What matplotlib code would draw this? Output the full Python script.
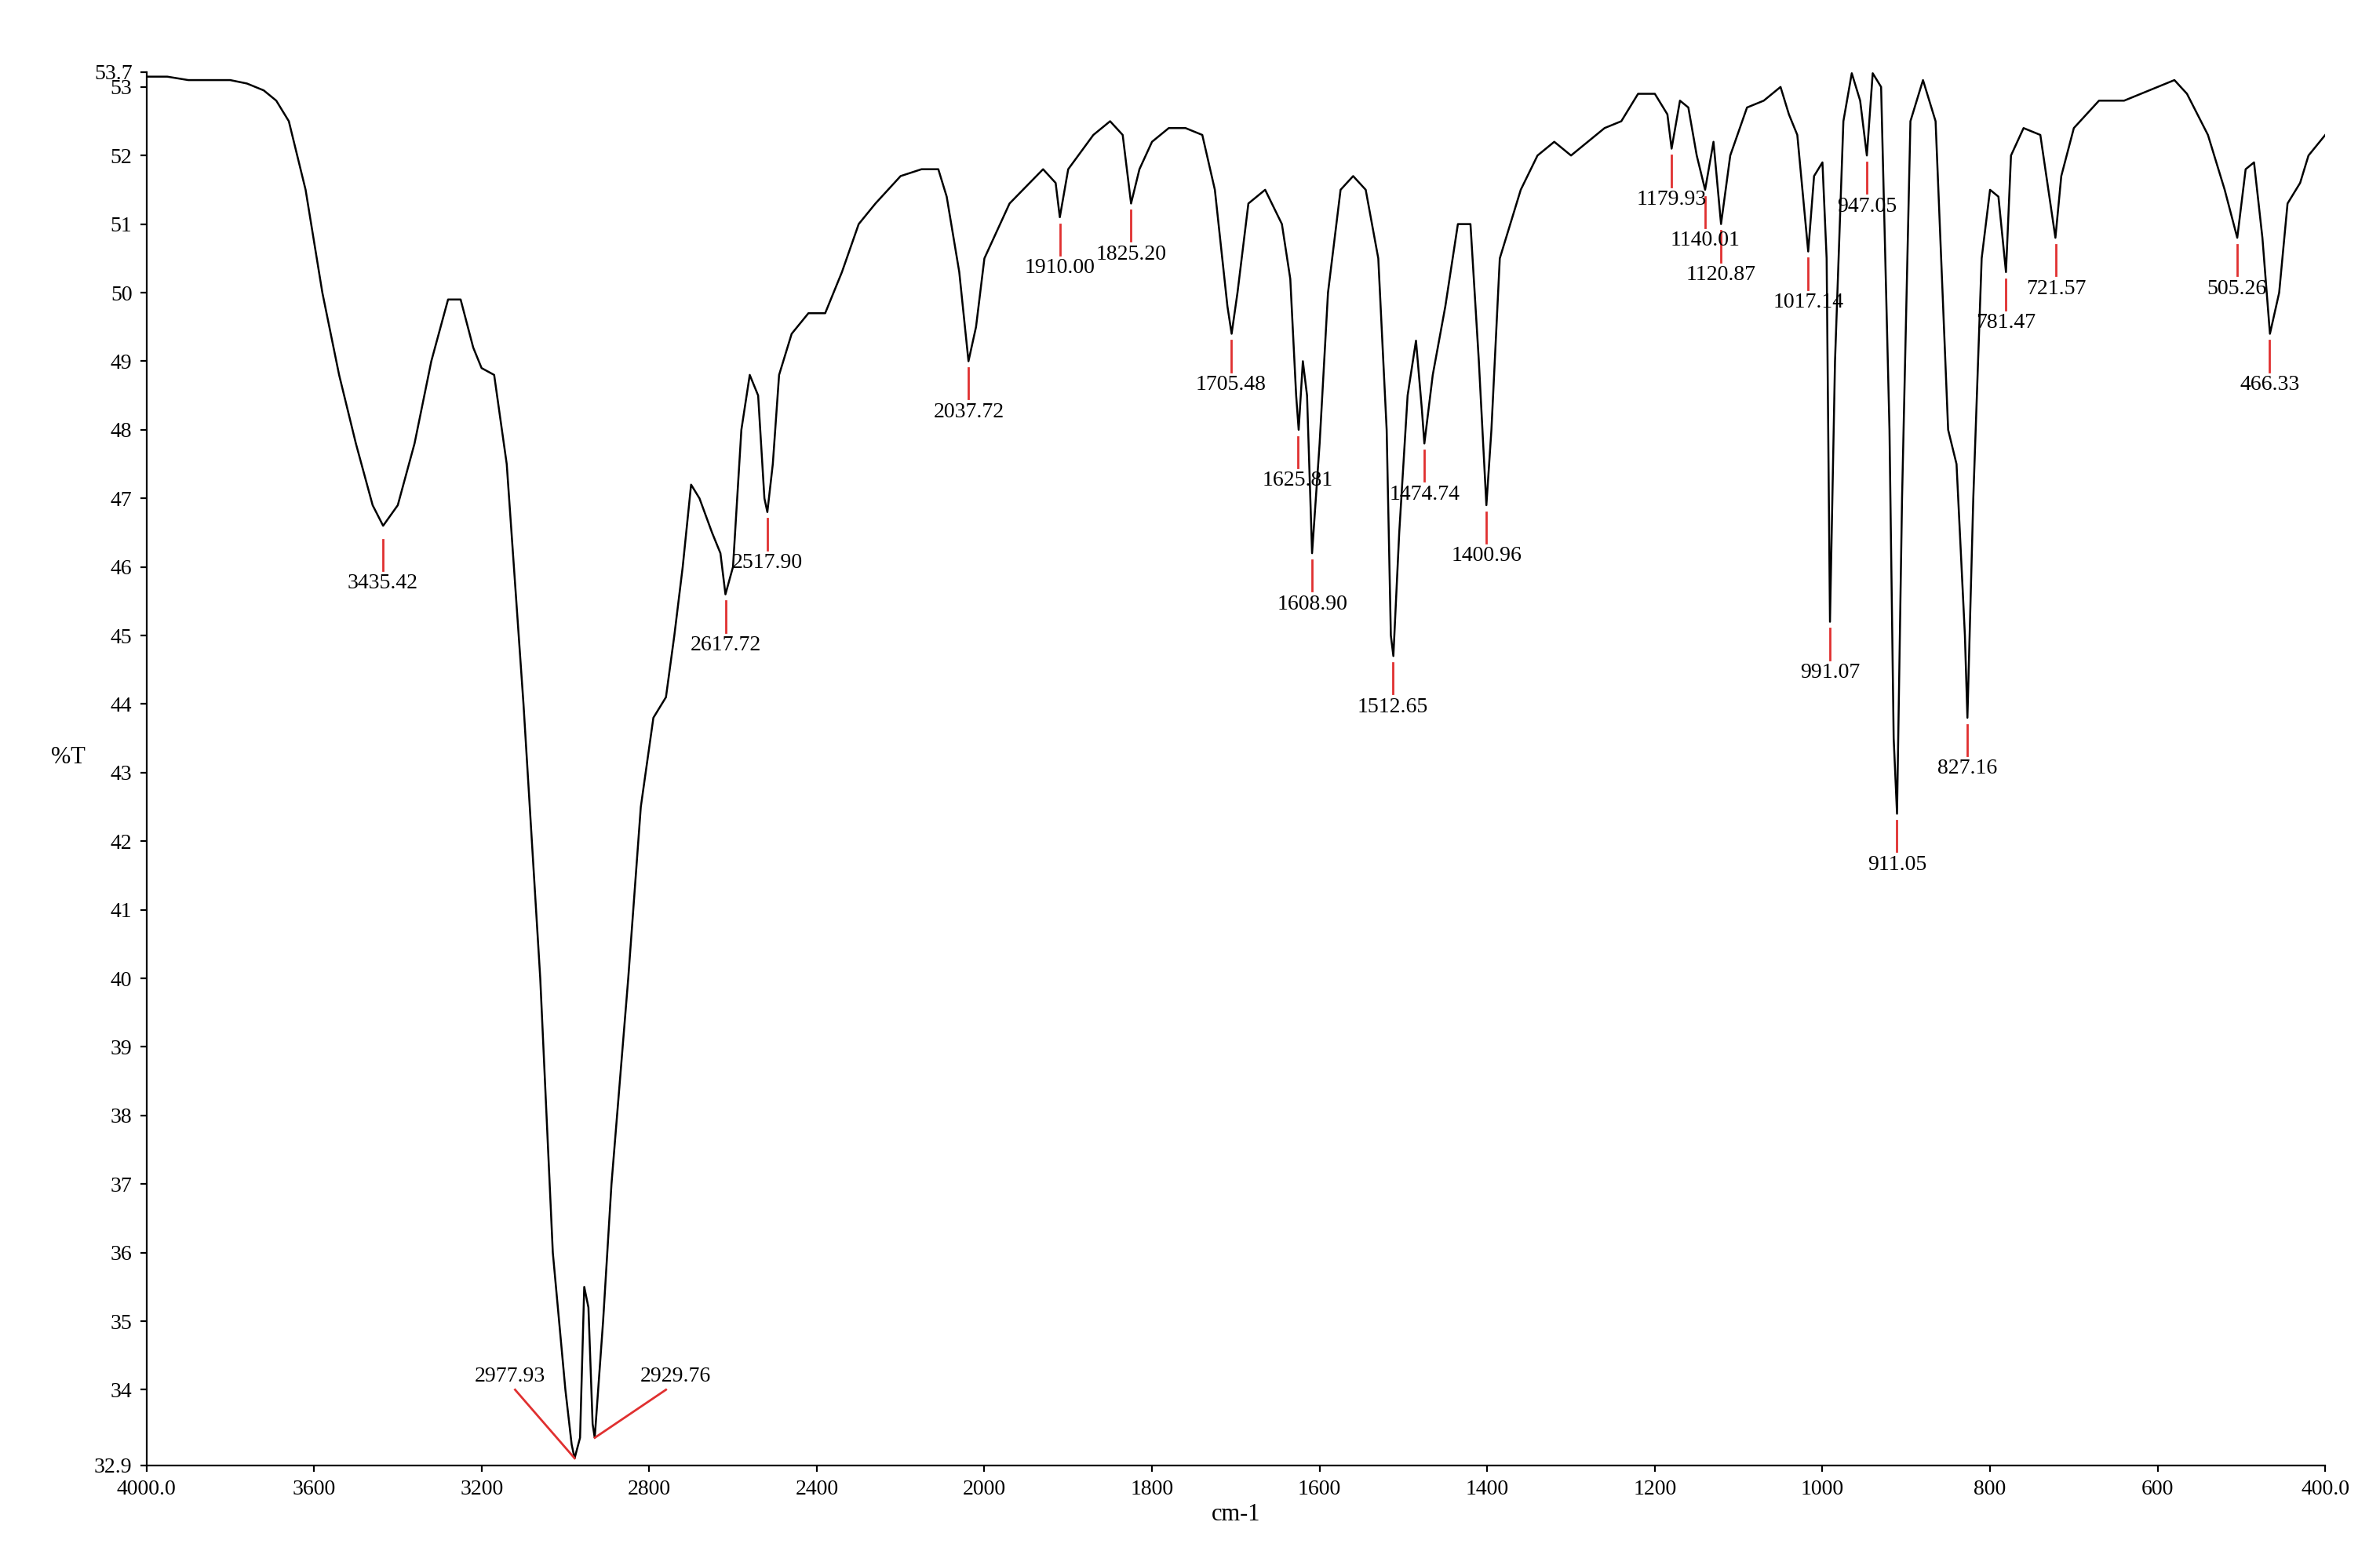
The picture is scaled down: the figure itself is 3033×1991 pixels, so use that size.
import matplotlib
matplotlib.use("Agg")
import matplotlib.pyplot as plt
import numpy as np

wn = [4000,3950,3900,3850,3800,3760,3720,3690,3660,3620,3580,3540,3500,3460,3435,3400,3360,3320,3280,3250,3220,3200,3170,3140,3100,3060,3030,3000,2985,2978,2965,2955,2945,2935,2930,2910,2890,2870,2850,2820,2790,2760,2740,2720,2700,2680,2650,2630,2618,2600,2580,2560,2540,2525,2518,2505,2490,2460,2420,2380,2340,2300,2260,2200,2150,2110,2090,2060,2038,2020,2000,1970,1930,1915,1910,1900,1870,1850,1835,1825,1815,1800,1780,1760,1740,1725,1710,1705,1698,1685,1665,1645,1635,1628,1625,1620,1615,1609,1600,1590,1575,1560,1545,1530,1520,1515,1512,1505,1495,1485,1478,1475,1465,1450,1435,1420,1410,1401,1395,1385,1360,1340,1320,1300,1280,1260,1240,1220,1200,1185,1180,1170,1160,1150,1140,1130,1121,1110,1090,1070,1050,1040,1030,1017,1010,1000,995,991,985,975,965,955,947,940,930,920,915,911,905,895,880,865,850,840,830,827,820,810,800,790,781,775,760,740,722,715,700,670,640,600,580,565,540,520,505,495,485,475,466,455,445,430,420,400]
tr = [53.15,53.15,53.1,53.1,53.1,53.05,52.95,52.8,52.5,51.5,50.0,48.8,47.8,46.9,46.6,46.9,47.8,49.0,49.9,49.9,49.2,48.9,48.8,47.5,44.0,40.0,36.0,34.0,33.2,33.0,33.3,35.5,35.2,33.5,33.3,35.0,37.0,38.5,40.0,42.5,43.8,44.1,45.0,46.0,47.2,47.0,46.5,46.2,45.6,46.0,48.0,48.8,48.5,47.0,46.8,47.5,48.8,49.4,49.7,49.7,50.3,51.0,51.3,51.7,51.8,51.8,51.4,50.3,49.0,49.5,50.5,51.3,51.8,51.6,51.1,51.8,52.3,52.5,52.3,51.3,51.8,52.2,52.4,52.4,52.3,51.5,49.8,49.4,50.0,51.3,51.5,51.0,50.2,48.5,48.0,49.0,48.5,46.2,47.8,50.0,51.5,51.7,51.5,50.5,48.0,45.0,44.7,46.5,48.5,49.3,48.3,47.8,48.8,49.8,51.0,51.0,49.0,46.9,48.0,50.5,51.5,52.0,52.2,52.0,52.2,52.4,52.5,52.9,52.9,52.6,52.1,52.8,52.7,52.0,51.5,52.2,51.0,52.0,52.7,52.8,53.0,52.6,52.3,50.6,51.7,51.9,50.5,45.2,49.0,52.5,53.2,52.8,52.0,53.2,53.0,48.0,43.5,42.4,47.0,52.5,53.1,52.5,48.0,47.5,45.0,43.8,47.0,50.5,51.5,51.4,50.3,52.0,52.4,52.3,50.8,51.7,52.4,52.8,52.8,53.0,53.1,52.9,52.3,51.5,50.8,51.8,51.9,50.8,49.4,50.0,51.3,51.6,52.0,52.3]

peak_labels = ["3435.42","2617.72","2517.90","2037.72","1910.00","1825.20","1705.48","1625.81","1608.90","1512.65","1474.74","1400.96","1179.93","1140.01","1120.87","1017.14","991.07","947.05","911.05","827.16","781.47","721.57","505.26","466.33"]
peak_x = [3435.42,2617.72,2517.90,2037.72,1910.00,1825.20,1705.48,1625.81,1608.90,1512.65,1474.74,1400.96,1179.93,1140.01,1120.87,1017.14,991.07,947.05,911.05,827.16,781.47,721.57,505.26,466.33]
peak_y = [46.5,45.6,46.8,49.0,51.1,51.3,49.4,48.0,46.2,44.7,47.8,46.9,52.1,51.5,51.0,50.6,45.2,52.0,42.4,43.8,50.3,50.8,50.8,49.4]

def fwd(x):
    x = np.asarray(x, dtype=float)
    return np.where(x > 2000, 2000 + (x - 2000) / 2.0, x)

def inv(x):
    x = np.asarray(x, dtype=float)
    return np.where(x > 2000, 2000 + (x - 2000) * 2.0, x)

serif = "Liberation Serif"
fig = plt.figure(figsize=(15.165, 9.955), dpi=200)
ax = fig.add_axes([0.0615, 0.062, 0.9155, 0.892])
ax.set_xscale("function", functions=(fwd, inv))
ax.plot(wn, tr, color="black", lw=0.9)
ax.set_xlim(4000, 400)
ax.set_ylim(32.9, 53.22)
for s in ["top", "right"]:
    ax.spines[s].set_visible(False)

for x, y, lab in zip(peak_x, peak_y, peak_labels):
    ax.plot([x, x], [y - 0.1, y - 0.55], color="#e03030", lw=1)
    ax.text(x, y - 0.6, lab, ha="center", va="top", fontsize=10, family=serif)

ax.plot([2977.93, 3120], [33.0, 34.0], color="#e03030", lw=1)
ax.text(3133, 34.05, "2977.93", ha="center", va="bottom", fontsize=10, family=serif)
ax.plot([2929.76, 2760], [33.3, 34.0], color="#e03030", lw=1)
ax.text(2738, 34.05, "2929.76", ha="center", va="bottom", fontsize=10, family=serif)

xt = [4000, 3600, 3200, 2800, 2400, 2000, 1800, 1600, 1400, 1200, 1000, 800, 600, 400]
xl = ["4000.0","3600","3200","2800","2400","2000","1800","1600","1400","1200","1000","800","600","400.0"]
ax.set_xticks(xt)
ax.set_xticklabels(xl, family=serif, fontsize=10)
ax.xaxis.set_minor_locator(matplotlib.ticker.NullLocator())
yt = [32.9] + list(range(34, 54)) + [53.22]
yl = ["32.9"] + [str(v) for v in range(34, 54)] + ["53.7"]
ax.set_yticks(yt)
ax.set_yticklabels(yl, family=serif, fontsize=10)
ax.tick_params(direction="out", length=3)
ax.set_xlabel("cm-1", family=serif, fontsize=11, labelpad=2)
ax.set_ylabel("%T", family=serif, fontsize=11, rotation=0, labelpad=12)
fig.savefig("out.png", dpi=200)
